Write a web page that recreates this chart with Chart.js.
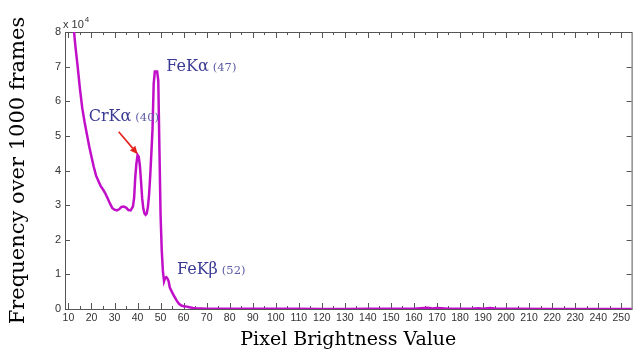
<!DOCTYPE html>
<html><head><meta charset="utf-8">
<script src="https://cdn.jsdelivr.net/npm/chart.js@4/dist/chart.umd.min.js"></script>
<style>html,body{margin:0;padding:0;background:#fff;overflow:hidden}#wrap{width:633px;height:351px;position:relative}</style>
</head><body><div id="wrap"><canvas id="c" width="633" height="351"></canvas></div>
<script>
// Pixel brightness values (x) and frequency over 1000 frames in units of 1e4 (y)
const brightness = [12,13,14,15,16,17,18,19,20,21,22,23,24,25,26,27,28,29,30,31,32,33,34,35,36,37,
  38,38.5,39,39.5,40,40.5,41,41.5,42,42.5,43,43.5,44,44.5,45,45.5,46,46.5,47,47.5,48,48.5,49,49.5,50,50.5,51,51.5,52,52.5,53,53.5,
  54,55,56,57,58,59,60,61,62,63,64,65,66,68,70,75,80,90,100,110,120,130,140,150,160,163,166,168,170,172,175,180,185,188,190,193,195,198,205,220,240,255];
const frequency = [8.3,7.6,7.0,6.35,5.8,5.4,5.05,4.7,4.4,4.1,3.85,3.7,3.55,3.45,3.34,3.2,3.05,2.92,2.87,2.85,2.88,2.95,2.96,2.93,2.86,2.85,
  2.96,3.2,3.8,4.2,4.45,4.4,4.15,3.7,3.2,2.9,2.76,2.72,2.76,2.95,3.3,3.85,4.5,5.2,6.5,6.86,6.86,6.86,6.6,4.6,2.7,1.7,1.1,0.8,0.9,0.92,0.88,0.8,
  0.62,0.48,0.36,0.24,0.15,0.1,0.08,0.075,0.06,0.045,0.03,0.02,0.015,0.012,0.01,0.008,0.006,0.005,0.004,0.004,0.003,0.003,0.004,0.005,0.006,0.02,0.035,0.015,0.03,0.02,0.008,0.006,0.01,0.025,0.01,0.03,0.015,0.008,0.004,0.003,0.002,0.002];
const xTickValues = [10,20,30,40,50,60,70,80,90,100,110,120,130,140,150,160,170,180,190,200,210,220,230,240,250];
const xMinorTickValues = [15,25,35,45,55,65,75,85,95,105,115,125,135,145,155,165,175,185,195,205,215,225,235,245];
const yTickValues = [0,1,2,3,4,5,6,7,8];
const peakNames = ['FeKα','CrKα','FeKβ'];
const peakChannels = ['(47)','(40)','(52)'];

// annotation placement (data units), kept apart from the data
const annot = {
  anchorX: [52.5, 18.8, 57.1],
  anchorY: [6.86, 5.44, 1.01],
  arrowFrom: [31.8, 5.12],
  arrowTo: [40.1, 4.47]
};

const points = brightness.map((b,i)=>({x:b,y:frequency[i]}));

const framePlugin = {
  id:'frame',
  beforeDatasetsDraw(chart){
    const {ctx, chartArea:{left,top,right,bottom}, scales:{x,y}} = chart;
    ctx.save();
    ctx.strokeStyle='#555'; ctx.lineWidth=1;
    ctx.strokeRect(left+0.5, top+0.5, right-left, bottom-top);
    ctx.beginPath();
    xTickValues.forEach(v=>{const p=Math.round(x.getPixelForValue(v))+0.5;
      ctx.moveTo(p,bottom); ctx.lineTo(p,bottom-6); ctx.moveTo(p,top); ctx.lineTo(p,top+6);});
    xMinorTickValues.forEach(v=>{const p=Math.round(x.getPixelForValue(v))+0.5;
      ctx.moveTo(p,bottom); ctx.lineTo(p,bottom-3); ctx.moveTo(p,top); ctx.lineTo(p,top+3);});
    yTickValues.forEach(v=>{const p=Math.round(y.getPixelForValue(v))+0.5;
      ctx.moveTo(left,p); ctx.lineTo(left+5,p); ctx.moveTo(right,p); ctx.lineTo(right-5,p);});
    ctx.stroke();
    ctx.restore();
  },
  afterDraw(chart){
    const {ctx, chartArea:{left,top}, scales:{x,y}} = chart;
    ctx.save();
    // exponent label
    ctx.fillStyle='#333'; ctx.textBaseline='alphabetic'; ctx.textAlign='left';
    ctx.font='11px "Liberation Sans"';
    ctx.fillText('x 10', left-2, top-4);
    const w = ctx.measureText('x 10').width;
    ctx.font='8px "Liberation Sans"';
    ctx.fillText('4', left-2+w+1, top-10);
    // peak labels
    peakNames.forEach((n,i)=>{
      const px = x.getPixelForValue(annot.anchorX[i]);
      const py = y.getPixelForValue(annot.anchorY[i]);
      ctx.font='16px "DejaVu Serif"'; ctx.fillStyle='#3a3a94';
      ctx.fillText(n, px, py);
      const nw = ctx.measureText(n).width;
      ctx.font='11.5px "DejaVu Serif"'; ctx.fillStyle='#5c5ca6';
      ctx.fillText(peakChannels[i], px+nw+4, py);
    });
    // arrow
    const x0=x.getPixelForValue(annot.arrowFrom[0]), y0=y.getPixelForValue(annot.arrowFrom[1]);
    const x1=x.getPixelForValue(annot.arrowTo[0]), y1=y.getPixelForValue(annot.arrowTo[1]);
    const ang=Math.atan2(y1-y0,x1-x0), hl=8, hw=3.5;
    const bx=x1-hl*Math.cos(ang), by=y1-hl*Math.sin(ang);
    ctx.strokeStyle='#e3201b'; ctx.fillStyle='#e3201b'; ctx.lineWidth=1.6;
    ctx.beginPath(); ctx.moveTo(x0,y0); ctx.lineTo(bx,by); ctx.stroke();
    ctx.beginPath(); ctx.moveTo(x1,y1);
    ctx.lineTo(bx+hw*Math.sin(ang), by-hw*Math.cos(ang));
    ctx.lineTo(bx-hw*Math.sin(ang), by+hw*Math.cos(ang));
    ctx.closePath(); ctx.fill();
    ctx.restore();
  }
};

new Chart(document.getElementById('c'), {
  type:'line',
  data:{datasets:[{data:points, borderColor:'#c10fc9', borderWidth:2.5, pointRadius:0, tension:0, fill:false}]},
  options:{
    responsive:false, animation:false, devicePixelRatio:1,
    layout:{padding:{top:32,right:0,left:0,bottom:0}},
    plugins:{legend:{display:false}, tooltip:{enabled:false}},
    scales:{
      x:{type:'linear', min:8.5, max:254.5,
        grid:{display:false, drawTicks:false}, border:{display:false},
        afterBuildTicks:s=>{s.ticks=xTickValues.map(v=>({value:v}));},
        afterFit:s=>{s.height=42;},
        ticks:{font:{family:'Liberation Sans', size:10.5}, color:'#333', padding:3, maxRotation:0, autoSkip:false, callback:v=>String(v)},
        title:{display:true, text:'Pixel Brightness Value', color:'#000', font:{family:'DejaVu Serif', size:19}, padding:0}
      },
      y:{min:0, max:8,
        grid:{display:false, drawTicks:false}, border:{display:false},
        afterBuildTicks:s=>{s.ticks=yTickValues.map(v=>({value:v}));},
        afterFit:s=>{s.width=65;},
        ticks:{font:{family:'Liberation Sans', size:11}, color:'#333', padding:4, callback:v=>String(v)},
        title:{display:true, text:'Frequency over 1000 frames', color:'#000', font:{family:'DejaVu Serif', size:21}, padding:{top:6,bottom:0}}
      }
    }
  },
  plugins:[framePlugin]
});
</script></body></html>
